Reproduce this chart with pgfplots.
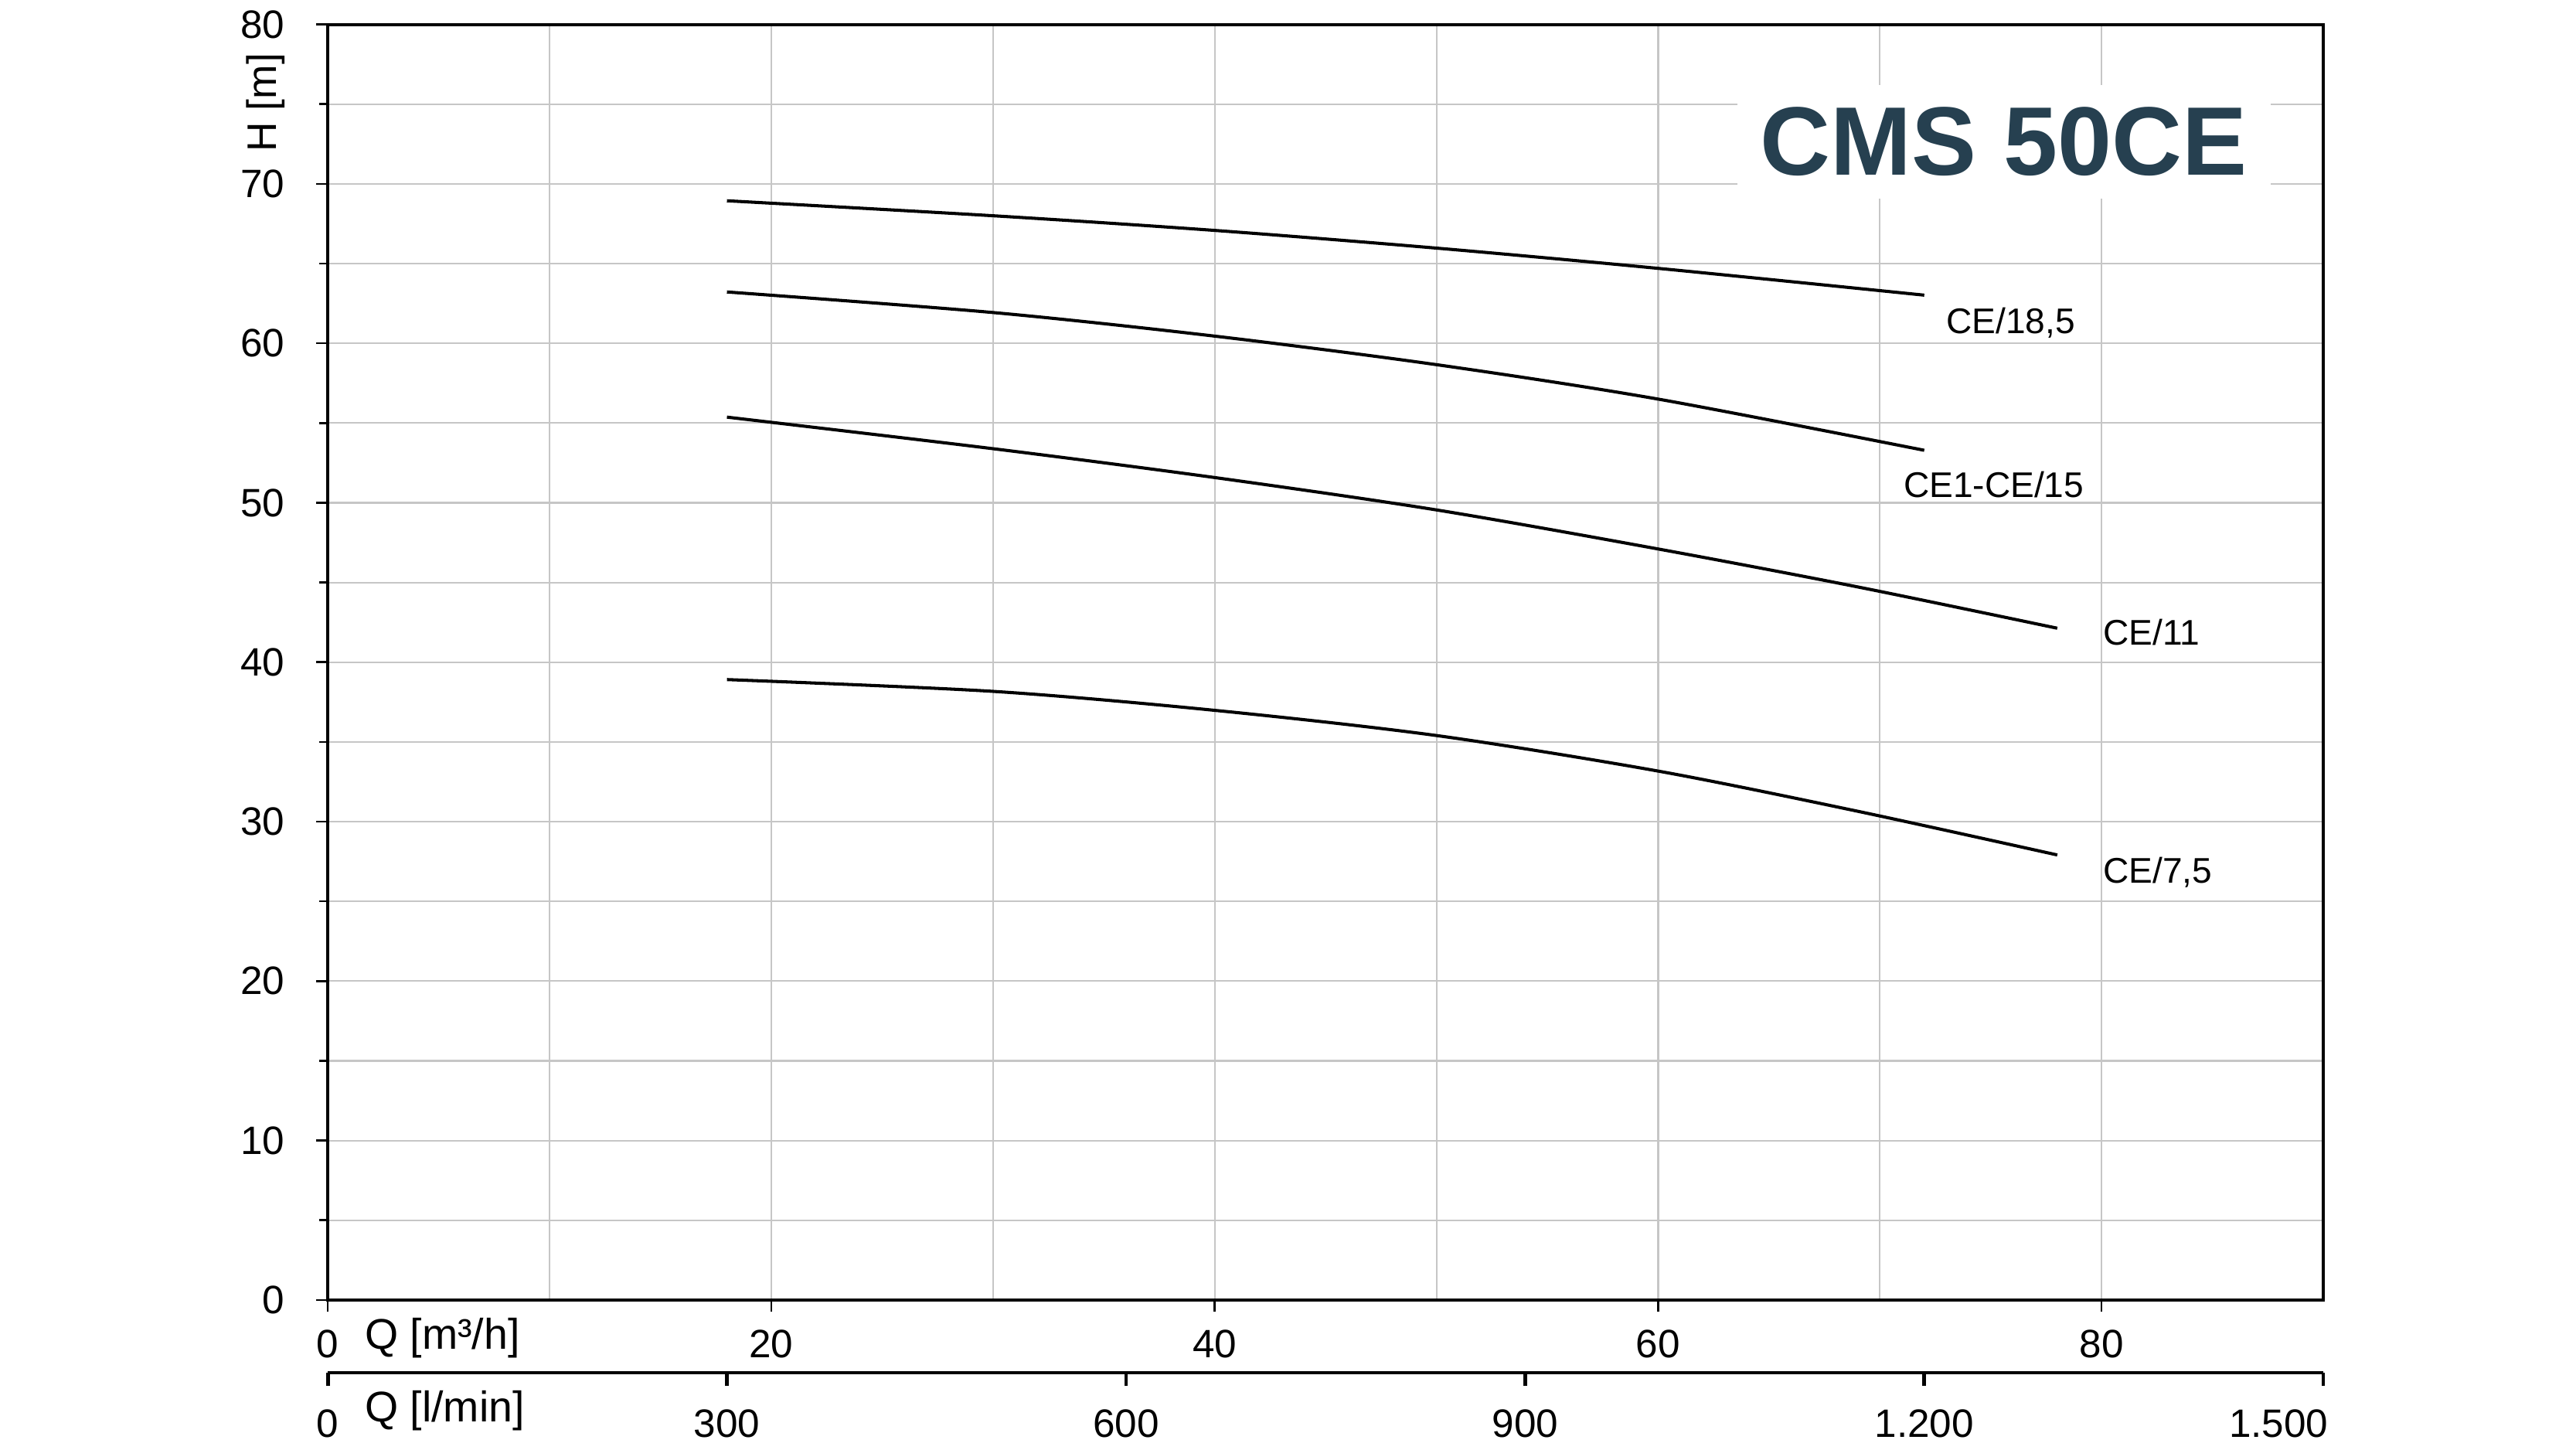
\documentclass[border=0pt]{standalone}
\usepackage{pgfplots}
\pgfplotsset{compat=1.18}
\usepackage{fontspec}
\setmainfont{Liberation Sans}
\definecolor{titlec}{RGB}{38,64,80}
\definecolor{gridc}{RGB}{198,198,198}
\begin{document}
\begin{tikzpicture}
\useasboundingbox (-99.4pt,-45.3pt) rectangle (681.6pt,394.1pt);
\begin{axis}[
  at={(0,0)}, anchor=south west,
  scale only axis, width=605pt, height=386.7pt,
  xmin=0, xmax=90, ymin=0, ymax=80,
  xtick={0,20,40,60,80}, minor xtick={10,30,50,70,90},
  ytick={0,10,...,80}, minor ytick={5,15,...,75},
  grid=both,
  major grid style={gridc, line width=0.5pt},
  minor grid style={gridc, line width=0.5pt},
  tick align=outside, tick pos=left,
  major tick length=3.6pt, minor tick length=2.6pt,
  minor x tick style={draw=none},
  tick style={black, line width=0.6pt},
  axis line style={line width=0.95pt},
  ticklabel style={font=\fontsize{12}{14}\selectfont},
  /pgf/number format/assume math mode=true,
  yticklabel style={xshift=-6pt},
  xticklabel style={yshift=-2pt},
  clip=false,
]
% CE/18,5
\addplot[black, line width=0.95pt, smooth] coordinates {
(18,68.94) (30,68.0) (40,67.08) (50,65.97) (60,64.7) (72,63.02)};
% CE1-CE/15
\addplot[black, line width=0.95pt, smooth] coordinates {
(18,63.22) (30,61.93) (40,60.45) (50,58.66) (60,56.5) (72,53.29)};
% CE/11
\addplot[black, line width=0.95pt, smooth] coordinates {
(18,55.37) (30,53.39) (40,51.58) (50,49.55) (60,47.1) (69,44.72) (78,42.13)};
% CE/7,5
\addplot[black, line width=0.95pt, smooth] coordinates {
(18,38.91) (30,38.17) (40,36.98) (50,35.40) (60,33.17) (69,30.65) (78,27.91)};

\node[anchor=base west, inner sep=0pt, font=\fontsize{10.8}{12}\selectfont] at (axis cs:72.97,60.63) {CE/18,5};
\node[anchor=base west, inner sep=0pt, font=\fontsize{10.8}{12}\selectfont] at (axis cs:71.04,50.36) {CE1-CE/15};
\node[anchor=base west, inner sep=0pt, font=\fontsize{10.8}{12}\selectfont] at (axis cs:80.04,41.10) {CE/11};
\node[anchor=base west, inner sep=0pt, font=\fontsize{10.8}{12}\selectfont] at (axis cs:80.04,26.16) {CE/7,5};

\node[fill=white, inner sep=0pt, minimum width=161.7pt, minimum height=34.4pt, text=titlec,
      font=\fontsize{29.5}{32}\selectfont\bfseries] at (axis cs:75.59,72.63) {CMS 50CE};

\node[rotate=90, anchor=base, inner sep=0pt, font=\fontsize{12.5}{14}\selectfont] at ([xshift=-15.7pt]axis cs:0,75.1) {H [m]};
\node[anchor=base west, inner sep=0pt, font=\fontsize{13}{14}\selectfont] at ([yshift=-14.8pt]axis cs:1.64,0) {Q [m³/h]};
\node[anchor=base west, inner sep=0pt, font=\fontsize{13}{14}\selectfont] at ([yshift=-37pt]axis cs:1.64,0) {Q [l/min]};
\end{axis}
\begin{axis}[
  at={(0,-22pt)}, anchor=south west,
  scale only axis, width=605pt, height=1pt,
  xmin=0, xmax=1500, ymin=0, ymax=1,
  axis x line*=bottom, axis y line=none,
  axis line style={-, line width=1pt},
  xtick={0,300,600,900,1200},
  extra x ticks={1500},
  extra x tick style={xticklabel style={anchor=north east, xshift=5pt}},
  tick align=outside, major tick length=4.1pt,
  tick style={black, line width=1.1pt},
  ticklabel style={font=\fontsize{12}{14}\selectfont},
  xticklabel style={yshift=-3.5pt},
  /pgf/number format/assume math mode=true,
  /pgf/number format/1000 sep={.},
]
\end{axis}
\end{tikzpicture}
\end{document}
